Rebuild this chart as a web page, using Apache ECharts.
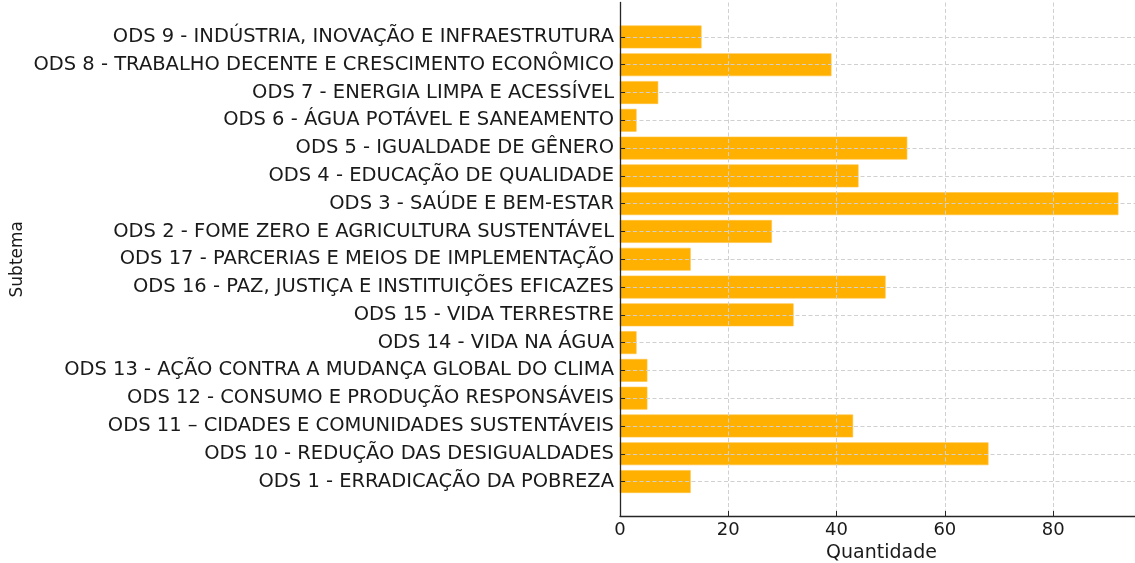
<!DOCTYPE html>
<html>
<head>
<meta charset="utf-8">
<script src="https://cdn.jsdelivr.net/npm/echarts@6/dist/echarts.min.js"></script>
<style>
html,body{margin:0;padding:0;background:#fff;}
#chart{width:1135px;height:563px;}
</style>
</head>
<body>
<div id="chart"></div>
<script>
const categories = [
  'ODS 1 - ERRADICAÇÃO DA POBREZA',
  'ODS 10 - REDUÇÃO DAS DESIGUALDADES',
  'ODS 11 – CIDADES E COMUNIDADES SUSTENTÁVEIS',
  'ODS 12 - CONSUMO E PRODUÇÃO RESPONSÁVEIS',
  'ODS 13 - AÇÃO CONTRA A MUDANÇA GLOBAL DO CLIMA',
  'ODS 14 - VIDA NA ÁGUA',
  'ODS 15 - VIDA TERRESTRE',
  'ODS 16 - PAZ, JUSTIÇA E INSTITUIÇÕES EFICAZES',
  'ODS 17 - PARCERIAS E MEIOS DE IMPLEMENTAÇÃO',
  'ODS 2 - FOME ZERO E AGRICULTURA SUSTENTÁVEL',
  'ODS 3 - SAÚDE E BEM-ESTAR',
  'ODS 4 - EDUCAÇÃO DE QUALIDADE',
  'ODS 5 - IGUALDADE DE GÊNERO',
  'ODS 6 - ÁGUA POTÁVEL E SANEAMENTO',
  'ODS 7 - ENERGIA LIMPA E ACESSÍVEL',
  'ODS 8 - TRABALHO DECENTE E CRESCIMENTO ECONÔMICO',
  'ODS 9 - INDÚSTRIA, INOVAÇÃO E INFRAESTRUTURA'
];
const quantidade = [13, 68, 43, 5, 5, 3, 32, 49, 13, 28, 92, 44, 53, 3, 7, 39, 15];
const xTickLabels = ['0', '20', '40', '60', '80'];
const xAxisTitle = 'Quantidade';
const yAxisTitle = 'Subtema';

const positions = categories.map((c, i) => i);
const seriesData = quantidade.map((v, i) => [v, i]);

const chart = echarts.init(document.getElementById('chart'), null, {renderer: 'canvas'});
const font = 'DejaVu Sans';
chart.setOption({
  animation: false,
  backgroundColor: '#ffffff',
  grid: {left: 620, top: 2.5, bottom: 47, right: -8, containLabel: false, outerBoundsMode: 'none'},
  xAxis: {
    type: 'value', min: 0, max: 96.6, interval: 20, z: 5,
    name: xAxisTitle, nameLocation: 'middle', nameGap: 27,
    nameTextStyle: {fontFamily: font, fontSize: 19, color: '#1a1a1a'},
    axisLine: {show: true, onZero: false, lineStyle: {color: '#262626', width: 1.3}},
    axisTick: {show: true, inside: true, length: 5, lineStyle: {color: '#262626', width: 1}},
    axisLabel: {fontFamily: font, fontSize: 18, color: '#1a1a1a', margin: 5, showMaxLabel: false,
      formatter: v => { const k = xTickLabels.indexOf(String(v)); return k >= 0 ? xTickLabels[k] : ''; }},
    splitLine: {show: true, lineStyle: {color: '#d0d0d0', type: [4, 2.5], width: 1}}
  },
  yAxis: {
    type: 'value', min: -1.24, max: 17.24, z: 5,
    name: yAxisTitle, nameLocation: 'middle', nameGap: 594, nameRotate: 90,
    nameTextStyle: {fontFamily: font, fontSize: 17, color: '#1a1a1a'},
    axisLine: {show: true, onZero: false, lineStyle: {color: '#262626', width: 1.3}},
    axisTick: {show: true, inside: true, length: 5, customValues: positions, lineStyle: {color: '#262626', width: 1}},
    axisLabel: {fontFamily: font, fontSize: 19.5, color: '#1a1a1a', margin: 6, customValues: positions,
      formatter: v => categories[Math.round(v)]},
    splitLine: {show: true, lineStyle: {color: '#d0d0d0', type: [4, 2.5], width: 1}}
  },
  series: [{
    type: 'custom',
    z: 2,
    encode: {x: 0, y: 1},
    data: seriesData,
    renderItem: function (params, api) {
      const y = api.value(1);
      const p0 = api.coord([0, y]);
      const p1 = api.coord([api.value(0), y]);
      const h = api.size([0, 0.8])[1];
      return {
        type: 'rect',
        shape: {x: p0[0], y: p0[1] - h / 2, width: p1[0] - p0[0], height: h},
        style: {fill: '#ffb000', stroke: '#ffc13d', lineWidth: 0.6}
      };
    }
  }]
});
</script>
</body>
</html>
